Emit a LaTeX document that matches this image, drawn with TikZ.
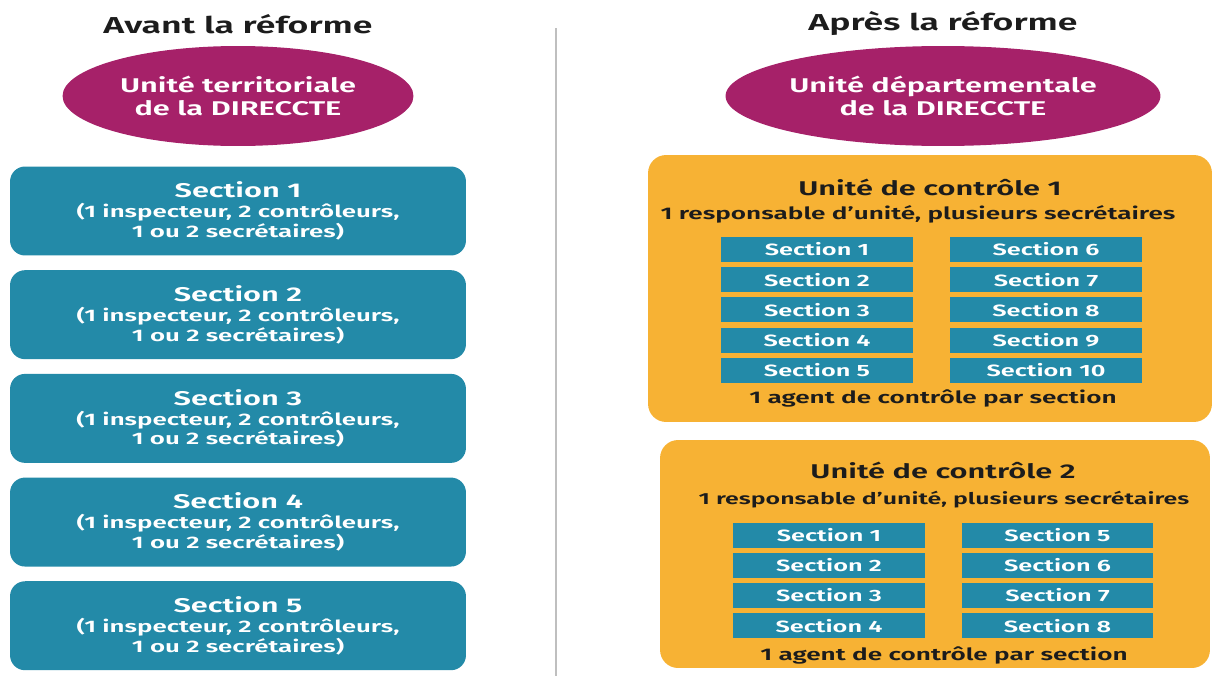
\documentclass[tikz,border=0pt]{standalone}
\usepackage{fontspec}
\setmainfont{Fira Sans}[BoldFont={* SemiBold}, FakeStretch=1.55]
\usetikzlibrary{positioning, shapes.geometric}
\definecolor{ellcol}{RGB}{166,33,105}
\definecolor{seccol}{RGB}{35,138,168}
\definecolor{unitecol}{RGB}{247,178,52}
\definecolor{textcol}{RGB}{28,28,28}

\begin{document}
\begin{tikzpicture}[x=0.02cm, y=-0.02cm,
	titre/.style={font=\bfseries\fontsize{13.1}{15}\selectfont, text=textcol},
	direccte/.style={ellipse, fill=ellcol, text=white, minimum width=7.02cm, minimum height=2cm, align=center, inner sep=0pt, font=\bfseries\fontsize{11.3}{13.6}\selectfont},
	section/.style={rectangle, rounded corners=0.3cm, fill=seccol, text=white, minimum width=9.12cm, minimum height=1.78cm, align=center, inner sep=0pt, font=\bfseries\fontsize{9.5}{11.3}\selectfont},
	unite/.style={rectangle, rounded corners=0.36cm, fill=unitecol, inner sep=0pt},
	uctitre/.style={font=\bfseries\fontsize{11.3}{13}\selectfont, text=textcol},
	ucligne/.style={font=\bfseries\fontsize{9.6}{11}\selectfont, text=textcol},
	cellule/.style={rectangle, fill=seccol, text=white, minimum width=3.84cm, minimum height=0.5cm, inner sep=0pt, font=\bfseries\fontsize{9.3}{11}\selectfont},
	separation/.style={draw=black!25, line width=1.5pt}]
	\useasboundingbox (0,0) rectangle (1213,676);

	% Avant la reforme
	\node[titre] (avant) at (238,24) {Avant la réforme};
	\node[direccte] (ut) at (238,96) {Unité territoriale\\de la DIRECCTE};
	\node[section] (s1) at (238,211) {{\fontsize{11.3}{13}\selectfont Section 1}\\(1 inspecteur, 2 contrôleurs,\\1 ou 2 secrétaires)};
	\node[section, below=0.28cm of s1] (s2) {{\fontsize{11.3}{13}\selectfont Section 2}\\(1 inspecteur, 2 contrôleurs,\\1 ou 2 secrétaires)};
	\node[section, below=0.28cm of s2] (s3) {{\fontsize{11.3}{13}\selectfont Section 3}\\(1 inspecteur, 2 contrôleurs,\\1 ou 2 secrétaires)};
	\node[section, below=0.28cm of s3] (s4) {{\fontsize{11.3}{13}\selectfont Section 4}\\(1 inspecteur, 2 contrôleurs,\\1 ou 2 secrétaires)};
	\node[section, below=0.28cm of s4] (s5) {{\fontsize{11.3}{13}\selectfont Section 5}\\(1 inspecteur, 2 contrôleurs,\\1 ou 2 secrétaires)};

	% Separation
	\coordinate (sephaut) at (556,28);
	\coordinate (sepbas) at (556,676);
	\draw[separation] (sephaut) -- (sepbas);

	% Apres la reforme
	\node[titre] (apres) at (943,24) {Après la réforme};
	\node[direccte] (ud) at (943,96) {Unité départementale\\de la DIRECCTE};

	% Unite de controle 1
	\node[unite, minimum width=11.28cm, minimum height=5.34cm] (uc1) at (930,288.5) {};
	\node[uctitre] (uc1titre) at (930,187) {Unité de contrôle 1};
	\node[ucligne] (uc1resp) at (918,214) {1 responsable d’unité, plusieurs secrétaires};
	\node[cellule] (a1) at (817,249.5) {Section 1};
	\node[cellule, below=0.09cm of a1] (a2) {Section 2};
	\node[cellule, below=0.09cm of a2] (a3) {Section 3};
	\node[cellule, below=0.09cm of a3] (a4) {Section 4};
	\node[cellule, below=0.09cm of a4] (a5) {Section 5};
	\node[cellule] (a6) at (1046,249.5) {Section 6};
	\node[cellule, below=0.09cm of a6] (a7) {Section 7};
	\node[cellule, below=0.09cm of a7] (a8) {Section 8};
	\node[cellule, below=0.09cm of a8] (a9) {Section 9};
	\node[cellule, below=0.09cm of a9] (a10) {Section 10};
	\node[ucligne] (uc1agent) at (933,398) {1 agent de contrôle par section};

	% Unite de controle 2
	\node[unite, minimum width=11cm, minimum height=4.56cm] (uc2) at (935,554) {};
	\node[uctitre] (uc2titre) at (943,470) {Unité de contrôle 2};
	\node[ucligne, font=\bfseries\fontsize{9.15}{11}\selectfont] (uc2resp) at (944,500) {1 responsable d’unité, plusieurs secrétaires};
	\node[cellule] (b1) at (829,535) {Section 1};
	\node[cellule, below=0.09cm of b1] (b2) {Section 2};
	\node[cellule, below=0.09cm of b2] (b3) {Section 3};
	\node[cellule, below=0.09cm of b3] (b4) {Section 4};
	\node[cellule] (b5) at (1057.5,535) {Section 5};
	\node[cellule, below=0.09cm of b5] (b6) {Section 6};
	\node[cellule, below=0.09cm of b6] (b7) {Section 7};
	\node[cellule, below=0.09cm of b7] (b8) {Section 8};
	\node[ucligne] (uc2agent) at (944,655) {1 agent de contrôle par section};
\end{tikzpicture}
\end{document}
